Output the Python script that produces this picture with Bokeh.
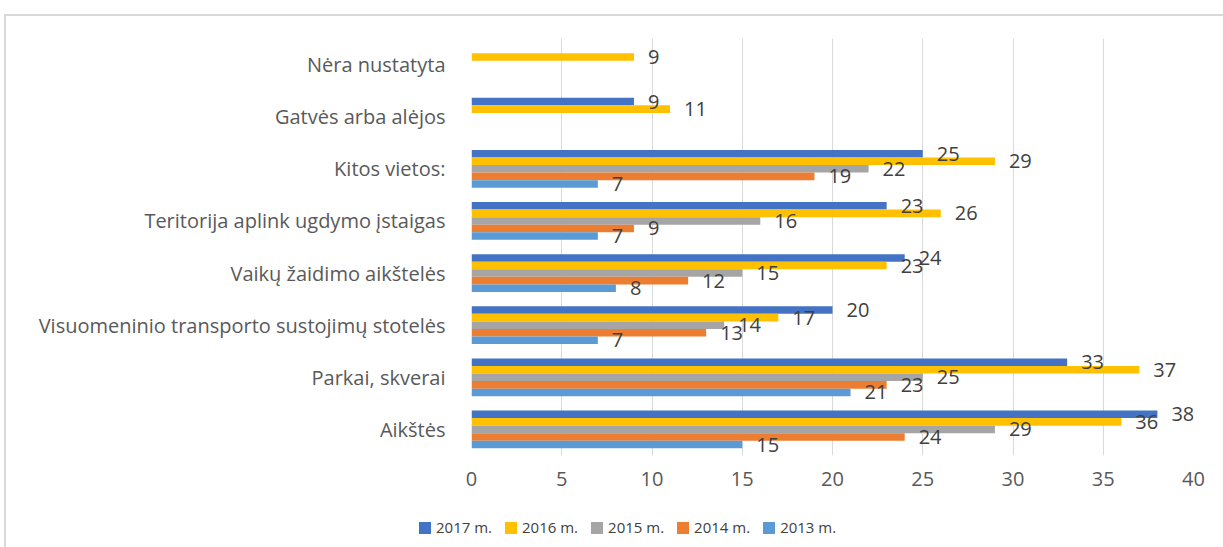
from bokeh.plotting import figure
from bokeh.layouts import column
from bokeh.models import FactorRange, ColumnDataSource, LabelSet, Legend, LegendItem, Range1d
from bokeh.transform import dodge
from bokeh.embed import file_html
from bokeh.resources import INLINE
from bokeh.core.properties import value

categories = ["Aikštės", "Parkai, skverai", "Visuomeninio transporto sustojimų stotelės",
              "Vaikų žaidimo aikštelės", "Teritorija aplink ugdymo įstaigas", "Kitos vietos:",
              "Gatvės arba alėjos", "Nėra nustatyta"]
series_names = ["2017 m.", "2016 m.", "2015 m.", "2014 m.", "2013 m."]
v2017 = [38, 33, 20, 24, 23, 25, 9, None]
v2016 = [36, 37, 17, 23, 26, 29, 11, 9]
v2015 = [29, 25, 14, 15, 16, 22, None, None]
v2014 = [24, 23, 13, 12, 9, 19, None, None]
v2013 = [15, 21, 7, 8, 7, 7, None, None]
x_ticks = [0, 5, 10, 15, 20, 25, 30, 35, 40]

series_values = [v2017, v2016, v2015, v2014, v2013]
colors = ["#4472C4", "#FFC000", "#A5A5A5", "#ED7D31", "#5B9BD5"]
offsets = [0.29, 0.145, 0.0, -0.145, -0.29]
bar_h = 0.145

FONT = "Open Sans"

p = figure(width=1217, height=484, output_backend="svg", toolbar_location=None,
           y_range=FactorRange(factors=categories), x_range=Range1d(0, 40),
           min_border_left=465, min_border_right=30, min_border_top=22, min_border_bottom=45)
p.frame_align = False
p.outline_line_color = None
p.background_fill_color = "white"
p.border_fill_color = "white"

p.ygrid.grid_line_color = None
p.xgrid.grid_line_color = "#d9d9d9"
p.xgrid.grid_line_width = 1
p.xaxis.ticker = x_ticks
p.xaxis.axis_line_color = None
p.xaxis.major_tick_line_color = None
p.xaxis.minor_tick_line_color = None
p.xaxis.major_label_standoff = 10
p.xaxis.major_label_text_font = FONT
p.xaxis.major_label_text_font_size = "20px"
p.xaxis.major_label_text_color = "#595959"
p.yaxis.axis_line_color = None
p.yaxis.major_tick_line_color = None
p.yaxis.minor_tick_line_color = None
p.yaxis.major_label_standoff = 20
p.yaxis.major_label_text_font = FONT
p.yaxis.major_label_text_font_size = "20px"
p.yaxis.major_label_text_color = "#595959"

for name, vals, col, off in zip(series_names, series_values, colors, offsets):
    cs = [c for c, v in zip(categories, vals) if v is not None]
    vs = [v for v in vals if v is not None]
    src = ColumnDataSource(dict(cat=cs, val=vs, txt=[str(v) for v in vs]))
    p.hbar(y=dodge("cat", off, range=p.y_range), right="val", left=0, height=bar_h,
           source=src, fill_color=col, line_color=None)
    labels = LabelSet(x="val", y=dodge("cat", off, range=p.y_range), text="txt", source=src,
                      x_offset=14, text_align="left", text_baseline="middle",
                      text_font=value(FONT), text_font_size="20px", text_color="#404040")
    p.add_layout(labels)

# legend strip below the chart (swatch renderers hold a zero-width bar, nothing visible)
q = figure(width=1217, height=47, output_backend="svg", toolbar_location=None,
           x_range=Range1d(0, 1), y_range=Range1d(0, 1), x_axis_type=None, y_axis_type=None,
           min_border=0)
q.frame_align = False
q.outline_line_color = None
q.grid.grid_line_color = None
q.background_fill_color = "white"
q.border_fill_color = "white"
items = []
for name, col in zip(series_names, colors):
    src = ColumnDataSource(dict(y=[-5], right=[0]))
    r = q.hbar(y="y", right="right", left=0, height=0.1, source=src,
               fill_color=col, line_color=None)
    items.append(LegendItem(label=name, renderers=[r]))
legend = Legend(items=items, orientation="horizontal", location=(411, 10),
                label_text_font=FONT, label_text_font_size="15px", label_text_color="#404040",
                glyph_width=15, glyph_height=15, label_standoff=4, spacing=11, padding=0,
                margin=0, border_line_color=None, background_fill_alpha=0)
q.add_layout(legend, "center")

layout = column(p, q, spacing=0)
layout.styles = {"border-top": "2px solid #d9d9d9", "border-left": "2px solid #d9d9d9",
                 "margin-top": "14px", "margin-left": "4px"}

open("out.html", "w").write(file_html(layout, INLINE))
